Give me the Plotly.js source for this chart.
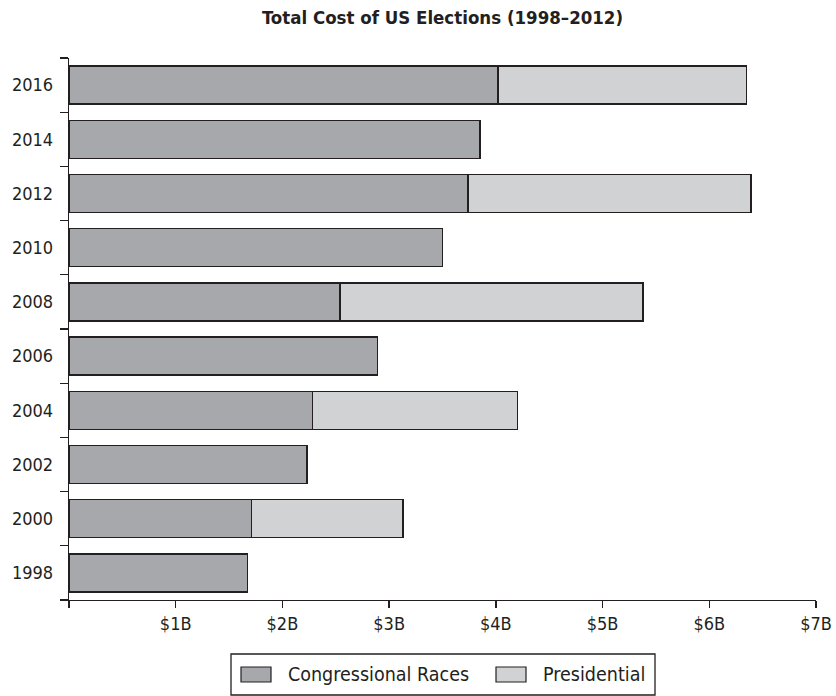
<!DOCTYPE html>
<html>
<head>
<meta charset="utf-8">
<script src="https://cdn.plot.ly/plotly-3.0.1.min.js"></script>
<style>html,body{margin:0;padding:0;background:#fff;}#chart{width:836px;height:696px;}</style>
</head>
<body>
<div id="chart"></div>
<script>
// ---- data ----
const years = ["1998", "2000", "2002", "2004", "2006", "2008", "2010", "2012", "2014", "2016"];
const congressional = [1.67, 1.71, 2.23, 2.28, 2.89, 2.54, 3.50, 3.74, 3.85, 4.02];
const presidential = [0, 1.42, 0, 1.92, 0, 2.84, 0, 2.65, 0, 2.33];
const seriesNames = ["Congressional Races", "Presidential"];
const xTickVals = [0, 1, 2, 3, 4, 5, 6, 7];
const xTickText = ["", "$1B", "$2B", "$3B", "$4B", "$5B", "$6B", "$7B"];
const chartTitle = "Total Cost of US Elections (1998\u20132012)";

// ---- style ----
const FONT = "'DejaVu Sans Condensed', 'Liberation Sans', sans-serif";
const INK = "#231f20";
const colors = ["#a7a8ab", "#d1d2d4"];
const W = 836, H = 696;
const M = {l: 69, r: 20, t: 58, b: 96};
const pw = W - M.l - M.r, ph = H - M.t - M.b;
const px = x => (x - M.l) / pw;          // pixel -> paper x
const py = y => (H - M.b - y) / ph;      // pixel -> paper y

const traces = [congressional, presidential].map((vals, i) => ({
  type: "bar",
  orientation: "h",
  name: seriesNames[i],
  y: years,
  x: vals,
  marker: {color: colors[i], line: {color: INK, width: 1.3}},
  showlegend: false,
  hoverinfo: "x+y+name"
}));

// custom legend (box + swatches + labels)
const legendBox = {x0: 231, x1: 655, y0: 654, y1: 695};
const swatches = [{x0: 241, x1: 271}, {x0: 496, x1: 526}];
const labelX = [286, 541];
const shapes = [{
  type: "rect", xref: "paper", yref: "paper",
  x0: px(legendBox.x0), x1: px(legendBox.x1), y0: py(legendBox.y0), y1: py(legendBox.y1),
  line: {color: INK, width: 1.3}, fillcolor: "rgba(0,0,0,0)"
}];
const annotations = [];
seriesNames.forEach((n, i) => {
  shapes.push({
    type: "rect", xref: "paper", yref: "paper",
    x0: px(swatches[i].x0), x1: px(swatches[i].x1), y0: py(667), y1: py(682),
    line: {color: INK, width: 1.2}, fillcolor: colors[i]
  });
  annotations.push({
    xref: "paper", yref: "paper", x: px(labelX[i]), y: py(674),
    xanchor: "left", yanchor: "middle", showarrow: false, text: n,
    font: {family: FONT, size: 19.5, color: INK}
  });
});

const layout = {
  width: W, height: H,
  margin: M,
  paper_bgcolor: "#fff", plot_bgcolor: "#fff",
  barmode: "stack",
  bargap: 0.3,
  showlegend: false,
  font: {family: FONT, size: 18, color: INK},
  title: {
    text: "<b>" + chartTitle + "</b>",
    font: {family: FONT, size: 18.5, color: INK},
    x: 0.5, xref: "paper", xanchor: "center",
    y: 1 - 18 / H, yref: "container", yanchor: "middle"
  },
  xaxis: {
    range: [0, 7], fixedrange: true,
    tickmode: "array", tickvals: xTickVals, ticktext: xTickText,
    ticks: "outside", ticklen: 7, tickwidth: 1.3, tickcolor: INK,
    showline: true, linecolor: INK, linewidth: 1.3,
    showgrid: false, zeroline: false,
    tickfont: {family: FONT, size: 18, color: INK}
  },
  yaxis: {
    type: "category", categoryorder: "array", categoryarray: years,
    tickson: "boundaries",
    ticks: "outside", ticklen: 8, tickwidth: 1.3, tickcolor: INK,
    ticklabelstandoff: 11,
    showline: true, linecolor: INK, linewidth: 1.3,
    showgrid: false, zeroline: false,
    tickfont: {family: FONT, size: 18, color: INK}
  },
  shapes: shapes,
  annotations: annotations
};

Plotly.newPlot("chart", traces, layout, {displayModeBar: false, staticPlot: true});
</script>
</body>
</html>
